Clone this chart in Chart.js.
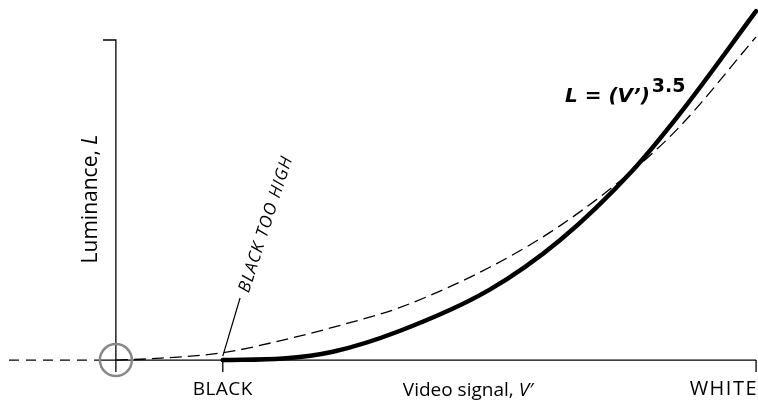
<!DOCTYPE html>
<html>
<head>
<meta charset="utf-8">
<script src="https://cdn.jsdelivr.net/npm/chart.js@4"></script>
<style>
  html, body { margin: 0; padding: 0; background: #fff; }
  canvas { display: block; }
</style>
</head>
<body>
<canvas id="myChart" width="758" height="402"></canvas>
<script>
// reference curve (dashed), starts at the origin
const refV = [0, 0.052, 0.167, 0.261, 0.364, 0.442, 0.584, 0.694, 0.806, 0.881, 1.0];
const refL = [0, 0.004, 0.023, 0.0625, 0.116, 0.163, 0.29, 0.42, 0.59, 0.73, 1.01];

// L = (V')^3.5 with black set too high (thick)
const gammaV = [0.167, 0.261, 0.339, 0.442, 0.584, 0.694, 0.806, 0.881, 1.0];
const gammaL = [0, 0.005, 0.026, 0.09, 0.22, 0.375, 0.59, 0.77, 1.09];

// axis marks
const tickValues = [0.167, 1.0];
const tickLabels = ['BLACK', 'WHITE'];
const yTopValue = 1.0;

// visible range of the drawing
const xMin = -0.181, xMax = 1.003;
const yMin = -0.131, yMax = 1.125;

const FONT = '"Open Sans", "DejaVu Sans", sans-serif';
const EQ_FONT = '"DejaVu Sans", sans-serif';

const overlay = {
    id: 'overlay',
    beforeDatasetsDraw(chart) {
        const { ctx, scales: { x, y } } = chart;
        const x0 = x.getPixelForValue(0), y0 = y.getPixelForValue(0);
        const below = y.getPixelForValue(-0.0375);
        ctx.save();
        ctx.strokeStyle = '#000';
        ctx.lineWidth = 1.3;
        // dashed extension of the horizontal axis
        ctx.setLineDash([10, 7]);
        ctx.beginPath();
        ctx.moveTo(x.getPixelForValue(-0.167), y0);
        ctx.lineTo(x.getPixelForValue(-0.025), y0);
        ctx.stroke();
        ctx.setLineDash([]);
        // horizontal axis
        ctx.beginPath();
        ctx.moveTo(x.getPixelForValue(-0.025), y0);
        ctx.lineTo(x.getPixelForValue(1.0), y0);
        ctx.stroke();
        // vertical axis with top tick
        ctx.beginPath();
        ctx.moveTo(x.getPixelForValue(-0.02), y.getPixelForValue(yTopValue));
        ctx.lineTo(x0, y.getPixelForValue(yTopValue));
        ctx.lineTo(x0, below);
        ctx.stroke();
        // ticks at black and white
        tickValues.forEach(v => {
            ctx.beginPath();
            ctx.moveTo(x.getPixelForValue(v), y0);
            ctx.lineTo(x.getPixelForValue(v), below);
            ctx.stroke();
        });
        ctx.restore();
    },
    afterDatasetsDraw(chart) {
        const { ctx, scales: { x, y } } = chart;
        const x0 = x.getPixelForValue(0), y0 = y.getPixelForValue(0);
        ctx.save();
        // circle at origin
        ctx.strokeStyle = '#888';
        ctx.lineWidth = 2.5;
        ctx.beginPath();
        ctx.arc(x0, y0, 16, 0, Math.PI * 2);
        ctx.stroke();

        // tick labels
        ctx.fillStyle = '#000';
        ctx.font = '19px ' + FONT;
        ctx.textBaseline = 'alphabetic';
        ctx.textAlign = 'center';
        ctx.letterSpacing = '0.5px';
        ctx.fillText(tickLabels[0], x.getPixelForValue(tickValues[0]), 395);
        ctx.font = '20px ' + FONT;
        ctx.textAlign = 'right';
        ctx.letterSpacing = '1.5px';
        ctx.fillText(tickLabels[1], x.getPixelForValue(tickValues[1]) + 2, 395);
        ctx.letterSpacing = '0px';

        // x axis title
        ctx.textAlign = 'left';
        const t1 = 'Video signal, ';
        ctx.font = '19px ' + FONT;
        const w1 = ctx.measureText(t1).width;
        ctx.font = 'italic 19px ' + FONT;
        const w2 = ctx.measureText('V\u2032').width;
        let sx = 468 - (w1 + w2) / 2;
        ctx.font = '19px ' + FONT;
        ctx.fillText(t1, sx, 396);
        ctx.font = 'italic 19px ' + FONT;
        ctx.fillText('V\u2032', sx + w1, 396);

        // y axis title
        ctx.save();
        ctx.translate(97, 199);
        ctx.rotate(-Math.PI / 2);
        ctx.font = '21px ' + FONT;
        const l1 = ctx.measureText('Luminance, ').width;
        ctx.font = 'italic 21px ' + FONT;
        const l2 = ctx.measureText('L').width;
        ctx.font = '21px ' + FONT;
        ctx.fillText('Luminance, ', -(l1 + l2) / 2, 0);
        ctx.font = 'italic 21px ' + FONT;
        ctx.fillText('L', -(l1 + l2) / 2 + l1, 0);
        ctx.restore();

        // leader line and "BLACK TOO HIGH"
        ctx.strokeStyle = '#000';
        ctx.lineWidth = 1.2;
        const lx0 = x.getPixelForValue(0.167), ly0 = y.getPixelForValue(0.0125);
        const lx1 = x.getPixelForValue(0.194), ly1 = y.getPixelForValue(0.194);
        ctx.beginPath();
        ctx.moveTo(lx0, ly0);
        ctx.lineTo(lx1, ly1);
        ctx.stroke();
        ctx.save();
        ctx.translate(lx1 + 4, ly1 - 6);
        ctx.rotate(-72 * Math.PI / 180);
        ctx.textBaseline = 'middle';
        ctx.textAlign = 'left';
        ctx.font = 'italic 17px ' + FONT;
        ctx.letterSpacing = '1px';
        ctx.fillText('BLACK TOO HIGH', 0, 0);
        ctx.letterSpacing = '0px';
        ctx.restore();

        // equation label
        const ex = x.getPixelForValue(0.7016), ey = y.getPixelForValue(0.806);
        ctx.font = 'bold oblique 20px ' + EQ_FONT;
        ctx.textAlign = 'left';
        ctx.textBaseline = 'alphabetic';
        const eq = 'L = (V\u2019)';
        ctx.fillText(eq, ex, ey);
        const ew = ctx.measureText(eq).width;
        ctx.font = 'bold 19px ' + EQ_FONT;
        ctx.fillText('3.5', ex + ew + 2, ey - 10);
        ctx.restore();
    }
};

const ctx = document.getElementById('myChart').getContext('2d');
new Chart(ctx, {
    type: 'line',
    data: {
        datasets: [{
            label: 'Reference',
            data: refV.map((v, i) => ({ x: v, y: refL[i] })),
            borderColor: '#000',
            borderWidth: 1.3,
            borderDash: [12, 6],
            pointRadius: 0,
            cubicInterpolationMode: 'monotone',
            fill: false,
        }, {
            label: 'L = (V\u2032)^3.5',
            data: gammaV.map((v, i) => ({ x: v, y: gammaL[i] })),
            borderColor: '#000',
            borderWidth: 4.5,
            borderCapStyle: 'round',
            pointRadius: 0,
            cubicInterpolationMode: 'monotone',
            fill: false,
        }]
    },
    options: {
        responsive: false,
        animation: false,
        layout: { padding: 0 },
        plugins: {
            legend: { display: false },
            tooltip: { enabled: false },
            title: { display: false }
        },
        scales: {
            x: { type: 'linear', min: xMin, max: xMax, display: false },
            y: { type: 'linear', min: yMin, max: yMax, display: false }
        }
    },
    plugins: [overlay]
});
</script>
</body>
</html>
